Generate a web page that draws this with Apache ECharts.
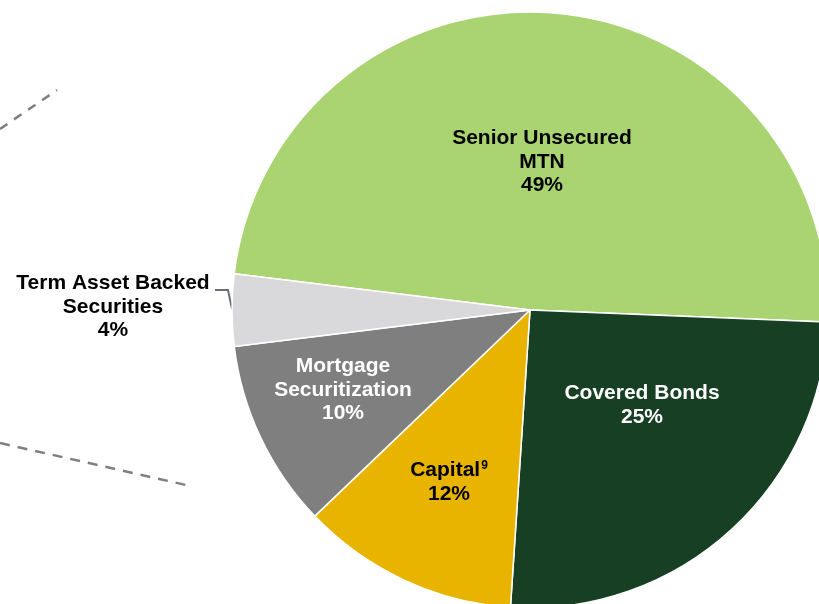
<!DOCTYPE html>
<html>
<head>
<meta charset="utf-8">
<script src="https://cdn.jsdelivr.net/npm/echarts@6/dist/echarts.min.js"></script>
<style>html,body{margin:0;padding:0;background:#fff;}#c{width:819px;height:604px;}</style>
</head>
<body>
<div id="c"></div>
<script>
const categories = ['Senior Unsecured\nMTN', 'Covered Bonds', 'Capital', 'Mortgage\nSecuritization', 'Term Asset Backed\nSecurities'];
const values = [48.7, 25.4, 11.8, 10.2, 3.9];
const colors = ['#aad471', '#173f24', '#e8b400', '#7f7f7f', '#d9d9db'];
const textColors = ['#000', '#fff', '#000', '#fff', '#000'];
const superscripts = ['', '', '9', '', ''];

const labelPos = [[542, 162], [642, 405], [449, 482], [343, 390], [113, 307]];

const chart = echarts.init(document.getElementById('c'), null, {renderer: 'canvas'});
const font = '"Liberation Sans", Arial, sans-serif';

const data = categories.map((name, i) => ({
  name: name,
  value: values[i],
  itemStyle: {color: colors[i]},
  label: {
    color: textColors[i],
    position: i === 4 ? 'outside' : 'inside',
    formatter: (p) => {
      const lines = p.name.split('\n');
      const sup = superscripts[p.dataIndex];
      if (sup) lines[lines.length - 1] += '{sup|' + sup + '}';
      return lines.join('\n') + '\n' + Math.round(p.value) + '%';
    },
    rich: {
      sup: {fontSize: 12, fontWeight: 'bold', color: textColors[i], fontFamily: font, padding: [0, 0, 10, 1]}
    }
  },
  labelLine: i === 4 ? {show: true, lineStyle: {color: '#66707a', width: 2}} : {show: false}
}));

chart.setOption({
  animation: false,
  backgroundColor: '#fff',
  graphic: [
    {type: 'line', shape: {x1: 0, y1: 129, x2: 57, y2: 90}, style: {stroke: '#7f7f7f', lineWidth: 2.5, lineDash: [9, 8]}},
    {type: 'line', shape: {x1: 0, y1: 443, x2: 186, y2: 485}, style: {stroke: '#7f7f7f', lineWidth: 2.5, lineDash: [10, 8]}}
  ],
  series: [{
    type: 'pie',
    center: [530, 310],
    radius: [0, 298],
    startAngle: 173,
    clockwise: true,
    avoidLabelOverlap: false,
    itemStyle: {borderColor: '#fff', borderWidth: 1.5},
    label: {
      show: true,
      fontFamily: font,
      fontWeight: 'bold',
      fontSize: 21,
      lineHeight: 23.5,
      align: 'center'
    },
    labelLayout: function (p) {
      const pos = labelPos[p.dataIndex];
      const res = {x: pos[0], y: pos[1], align: 'center', verticalAlign: 'middle'};
      if (p.dataIndex === 4) {
        res.labelLinePoints = [[232, 309], [228, 290], [215, 290]];
      }
      return res;
    },
    data: data
  }]
});
</script>
</body>
</html>
